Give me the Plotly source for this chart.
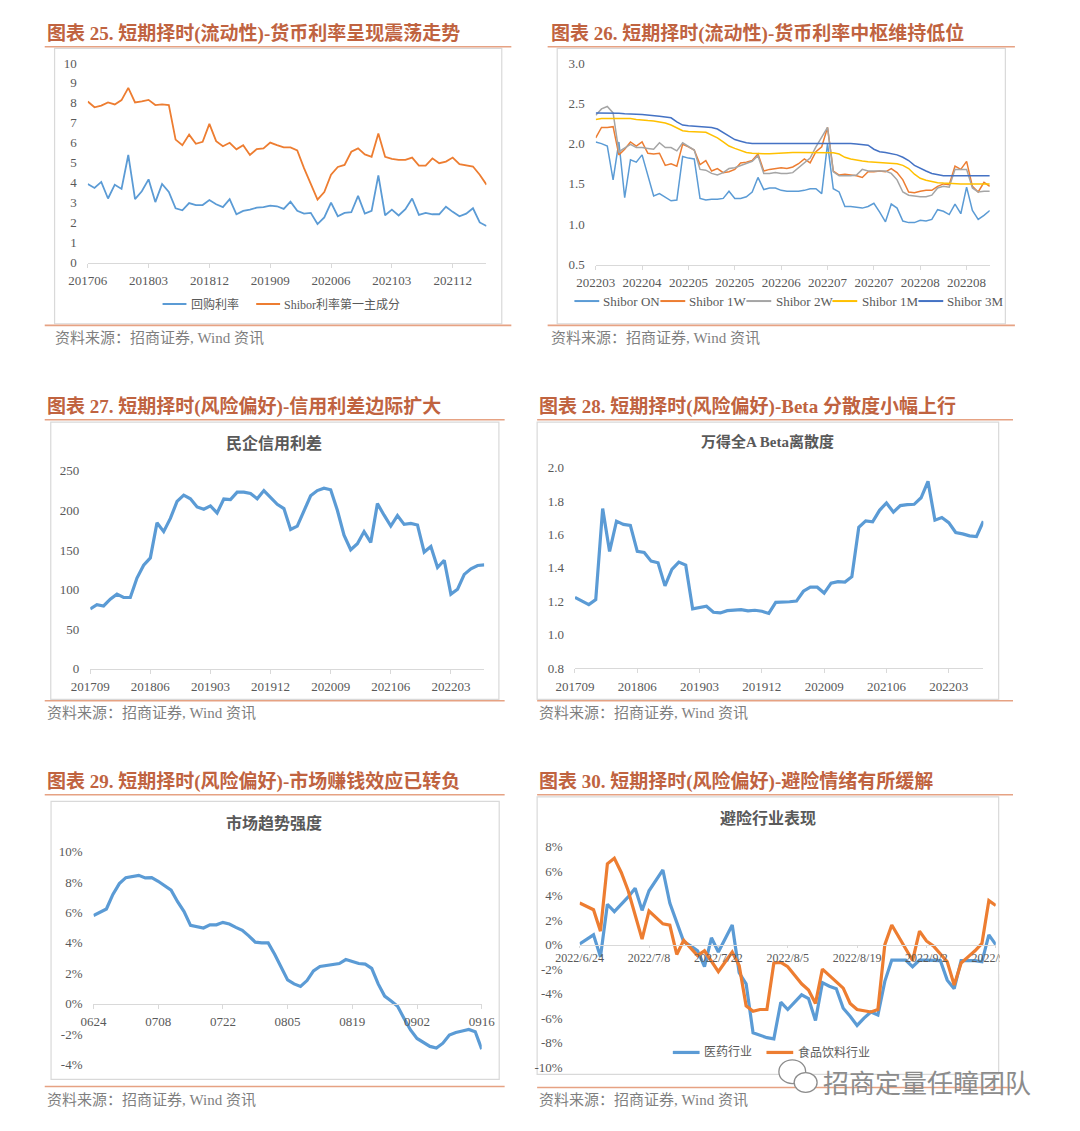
import plotly.graph_objects as go
import pandas as pd

W, H = 1080, 1131


def X(px):
    return px / W


def Y(py):
    return 1 - py / H


SERIF = "Liberation Serif, Noto Sans CJK SC, serif"
CJK = "Noto Sans CJK SC, Liberation Serif, sans-serif"
TICK_FONT = dict(family=SERIF, size=13, color="#595959")

# ------------------------------------------------------------------ data
# Chart 25 : monthly 201706 - 202205
months_a = [p.strftime("%Y%m") for p in pd.period_range("2017-06", periods=60, freq="M")]
ticks_25 = ["201706", "201803", "201812", "201909", "202006", "202103", "202112"]
repo_rate = [3.94, 3.74, 4.04, 3.21, 3.90, 3.69, 5.39, 3.18, 3.57, 4.17,
             3.03, 3.94, 3.54, 2.72, 2.62, 2.98, 2.88, 2.88, 3.13, 2.92,
             2.78, 3.18, 2.42, 2.59, 2.65, 2.75, 2.78, 2.85, 2.82, 2.69,
             3.05, 2.59, 2.45, 2.49, 1.93, 2.26, 3.00, 2.32, 2.49, 2.52,
             3.34, 2.45, 2.59, 4.37, 2.37, 2.65, 2.36, 2.67, 3.21, 2.39,
             2.49, 2.42, 2.42, 2.80, 2.54, 2.32, 2.45, 2.72, 2.01, 1.83]
shibor_pc1 = [8.07, 7.78, 7.86, 8.02, 7.92, 8.14, 8.75, 8.02, 8.07, 8.15,
              7.89, 7.92, 7.89, 6.16, 5.88, 6.41, 5.95, 6.05, 6.95, 6.08,
              5.83, 6.00, 5.67, 5.88, 5.39, 5.68, 5.72, 6.01, 5.88, 5.77,
              5.77, 5.62, 4.73, 3.90, 3.15, 3.53, 4.40, 4.79, 4.89, 5.55,
              5.72, 5.42, 5.30, 6.46, 5.30, 5.19, 5.14, 5.14, 5.26, 4.86,
              4.86, 5.22, 4.98, 5.06, 5.26, 4.93, 4.86, 4.81, 4.40, 3.90]

# Chart 26 : daily Shibor, 69 observations
shibor_obs = list(range(69))
ticks_26_pos = [0, 8, 16, 24, 32, 40, 48, 56, 64]
ticks_26 = ["202203", "202204", "202205", "202205", "202206",
            "202207", "202207", "202208", "202208"]
shibor_on = [2.02, 2.00, 1.97, 1.55, 2.02, 1.33, 1.80, 1.77, 1.86, 1.60,
             1.35, 1.38, 1.33, 1.29, 1.30, 1.84, 1.82, 1.81, 1.32, 1.30,
             1.31, 1.31, 1.32, 1.41, 1.32, 1.32, 1.34, 1.40, 1.58, 1.43,
             1.45, 1.45, 1.42, 1.41, 1.41, 1.41, 1.42, 1.44, 1.44, 1.38,
             2.00, 1.44, 1.40, 1.22, 1.22, 1.21, 1.20, 1.22, 1.26, 1.15,
             1.03, 1.25, 1.20, 1.04, 1.02, 1.02, 1.05, 1.04, 1.06, 1.18,
             1.16, 1.12, 1.25, 1.13, 1.46, 1.17, 1.06, 1.11, 1.17]
shibor_1w = [2.07, 2.20, 2.20, 2.21, 1.86, 1.93, 2.02, 1.97, 2.02, 1.88,
             1.87, 1.88, 1.73, 1.75, 1.72, 1.99, 1.96, 1.92, 1.74, 1.79,
             1.66, 1.69, 1.64, 1.65, 1.68, 1.76, 1.77, 1.79, 1.87, 1.66,
             1.68, 1.69, 1.70, 1.69, 1.71, 1.75, 1.81, 1.76, 1.90, 1.96,
             2.20, 1.66, 1.61, 1.62, 1.61, 1.60, 1.58, 1.65, 1.65, 1.66,
             1.65, 1.69, 1.64, 1.55, 1.40, 1.39, 1.41, 1.42, 1.42, 1.47,
             1.50, 1.49, 1.72, 1.68, 1.78, 1.47, 1.40, 1.52, 1.47]
shibor_2w = [2.35, 2.43, 2.46, 2.38, 1.90, 1.95, 1.99, 1.95, 1.95, 1.94,
             1.93, 2.01, 1.95, 1.95, 1.91, 2.01, 1.97, 1.92, 1.68, 1.67,
             1.63, 1.61, 1.64, 1.69, 1.70, 1.73, 1.76, 1.78, 1.85, 1.63,
             1.63, 1.64, 1.63, 1.63, 1.64, 1.70, 1.77, 1.82, 1.96, 2.08,
             2.20, 1.65, 1.60, 1.60, 1.60, 1.61, 1.68, 1.66, 1.66, 1.66,
             1.66, 1.63, 1.55, 1.40, 1.36, 1.35, 1.34, 1.34, 1.36, 1.45,
             1.47, 1.46, 1.68, 1.68, 1.68, 1.45, 1.40, 1.41, 1.41]
shibor_1m = [2.30, 2.31, 2.31, 2.31, 2.31, 2.31, 2.31, 2.30, 2.29, 2.285,
             2.28, 2.27, 2.255, 2.23, 2.19, 2.16, 2.15, 2.15, 2.145, 2.14,
             2.11, 2.07, 2.02, 1.97, 1.94, 1.91, 1.89, 1.88, 1.875, 1.875,
             1.875, 1.88, 1.885, 1.89, 1.89, 1.89, 1.89, 1.89, 1.89, 1.89,
             1.89, 1.885, 1.87, 1.83, 1.81, 1.795, 1.785, 1.775, 1.77, 1.765,
             1.76, 1.755, 1.75, 1.73, 1.69, 1.62, 1.57, 1.545, 1.53, 1.515,
             1.51, 1.505, 1.50, 1.50, 1.50, 1.50, 1.50, 1.50, 1.50]
shibor_3m = [2.38, 2.38, 2.38, 2.375, 2.375, 2.37, 2.37, 2.365, 2.36, 2.355,
             2.35, 2.34, 2.33, 2.32, 2.27, 2.23, 2.22, 2.215, 2.21, 2.205,
             2.20, 2.18, 2.14, 2.09, 2.05, 2.03, 2.01, 2.00, 2.00, 2.00,
             2.00, 2.005, 2.005, 2.005, 2.005, 2.00, 2.00, 2.00, 2.00, 2.00,
             2.00, 2.00, 2.00, 2.00, 2.00, 1.995, 1.99, 1.98, 1.93, 1.90,
             1.89, 1.875, 1.86, 1.83, 1.79, 1.73, 1.69, 1.66, 1.63, 1.615,
             1.60, 1.60, 1.60, 1.60, 1.60, 1.60, 1.60, 1.60, 1.60]

# Charts 27 / 28 : monthly 201709 - 202208
months_b = [p.strftime("%Y%m") for p in pd.period_range("2017-09", periods=60, freq="M")]
ticks_27 = ["201709", "201806", "201903", "201912", "202009", "202106", "202203"]
credit_spread = [75.6, 81, 79.3, 88, 94.3, 90, 90, 114.6, 130.8, 140,
                 184.4, 173.2, 189.8, 211.4, 219.3, 214.7, 204.3, 201.4, 205.6, 196.8,
                 214.3, 213.5, 223, 223, 221.3, 214.7, 225, 216, 207.6, 202.2,
                 176, 180.2, 200.2, 218.4, 225, 228, 226, 200.2, 168.6, 150.3,
                 157.8, 173.2, 159.5, 208.5, 193.9, 180.2, 193.5, 182.3, 183.6, 181.5,
                 147.4, 154.5, 127.9, 137, 94.3, 100.5, 119.2, 126.2, 130.4, 131.2]
beta_dispersion = [1.223, 1.20, 1.18, 1.21, 1.754, 1.498, 1.679, 1.66, 1.654, 1.498,
                   1.492, 1.44, 1.43, 1.292, 1.39, 1.434, 1.416, 1.154, 1.162, 1.17,
                   1.134, 1.13, 1.144, 1.146, 1.15, 1.142, 1.146, 1.14, 1.127, 1.193,
                   1.193, 1.197, 1.201, 1.26, 1.284, 1.284, 1.249, 1.308, 1.317, 1.315,
                   1.347, 1.642, 1.681, 1.675, 1.744, 1.788, 1.733, 1.772, 1.778, 1.78,
                   1.819, 1.917, 1.685, 1.701, 1.67, 1.611, 1.603, 1.591, 1.587, 1.679]

# Charts 29 / 30 : trading days 2022-06-24 .. 2022-09-16
trade_days = pd.bdate_range("2022-06-24", "2022-09-16")
days_29 = [d.strftime("%m%d") for d in trade_days]
days_30 = [f"{d.year}/{d.month}/{d.day}" for d in trade_days]
trend_strength = [5.8, 6.0, 6.23, 7.19, 7.9, 8.29, 8.38, 8.44, 8.27, 8.29,
                  8.05, 7.79, 7.47, 6.71, 6.06, 5.15, 5.04, 4.98, 5.19, 5.19,
                  5.35, 5.24, 5.02, 4.83, 4.46, 4.05, 4.0, 4.0, 3.25, 2.38,
                  1.56, 1.3, 1.13, 1.52, 2.16, 2.45, 2.51, 2.55, 2.64, 2.9,
                  2.75, 2.64, 2.6, 2.32, 1.3, 0.5, 0.17, -0.17, -0.97, -1.73,
                  -2.29, -2.55, -2.81, -2.92, -2.6, -2.06, -1.9, -1.8, -1.69, -1.84,
                  -2.99]
pharma = [0.05, 0.4, 0.8, -1.0, 3.3, 2.7, 3.3, 3.9, 4.6, 2.8,
          4.4, 5.2, 6.1, 3.4, 1.8, 0.25, -0.1, -0.5, -1.8, 0.56,
          -0.6, 0.5, 1.6, -2.3, -3.2, -7.2, -7.4, -7.6, -7.7, -4.7,
          -5.3, -4.7, -4.1, -4.4, -6.2, -3.1, -3.4, -3.6, -5.2, -5.85,
          -6.6, -6.0, -5.5, -5.75, -3.0, -1.26, -1.26, -1.26, -1.8, -1.26,
          -1.26, -1.3, -1.3, -2.9, -3.6, -1.3, -1.3, -1.3, -1.4, 0.8,
          0.0]
food_beverage = [3.4, 3.15, 2.85, 1.1, 6.6, 7.05, 5.9, 4.4, 2.4, 0.45,
                 2.75, 2.2, 1.7, 1.6, -0.8, 0.35, -0.3, -0.9, -0.5, -1.3,
                 -2.2, -1.4, -0.6, -1.7, -5.0, -5.45, -5.3, -5.3, -1.5, -1.45,
                 -1.8, -2.5, -3.2, -3.7, -4.8, -2.0, -2.5, -3.0, -3.55, -4.8,
                 -5.3, -5.4, -5.5, -5.3, 0.0, 1.6, 0.6, -0.4, -1.3, 1.1,
                 0.3, -0.1, -0.8, -1.4, -3.3, -1.5, -1.0, -0.5, 0.1, 3.6,
                 3.2]

# ------------------------------------------------------------------ figure
BLUE, ORANGE, GRAY, GOLD, NAVY = "#5B9BD5", "#ED7D31", "#A5A5A5", "#FFC000", "#4472C4"

fig = go.Figure()


def line(x, y, ax, color, width):
    fig.add_trace(go.Scatter(x=x, y=y, mode="lines", xaxis="x" + ax, yaxis="y" + ax,
                             line=dict(color=color, width=width), hoverinfo="skip",
                             showlegend=False))


line(months_a, repo_rate, "", BLUE, 1.8)
line(months_a, shibor_pc1, "", ORANGE, 1.8)
line(shibor_obs, shibor_on, "2", BLUE, 1.5)
line(shibor_obs, shibor_1w, "2", ORANGE, 1.5)
line(shibor_obs, shibor_2w, "2", GRAY, 1.5)
line(shibor_obs, shibor_1m, "2", GOLD, 1.5)
line(shibor_obs, shibor_3m, "2", NAVY, 1.5)
line(months_b, credit_spread, "3", BLUE, 3.2)
line(months_b, beta_dispersion, "4", BLUE, 3.2)
line(days_29, trend_strength, "5", BLUE, 3.2)
line(days_30, pharma, "6", BLUE, 3.2)
line(days_30, food_beverage, "6", ORANGE, 3.2)


def xaxis(x0, x1, rng, **kw):
    d = dict(domain=[X(x0), X(x1)], range=rng, showline=True, linecolor="#D9D9D9",
             linewidth=1, ticks="outside", ticklen=4, tickcolor="#D9D9D9", tickwidth=1,
             showgrid=False, zeroline=False, tickfont=TICK_FONT, ticklabelstandoff=2,
             fixedrange=True, tickmode="array")
    d.update(kw)
    return d


def yaxis(y0, y1, rng, vals, texts, anchor, standoff=10):
    return dict(domain=[Y(y0), Y(y1)], range=rng, showline=False, showgrid=False,
                zeroline=False, ticks="", tickmode="array", tickvals=vals, ticktext=texts,
                tickfont=TICK_FONT, ticklabelstandoff=standoff, fixedrange=True,
                anchor=anchor)


def num_ticks(start, stop, step, fmt):
    vals, v = [], start
    while v <= stop + 1e-9:
        vals.append(round(v, 6))
        v += step
    return vals, [fmt(t) for t in vals]


yv1, yt1 = num_ticks(0, 10, 1, lambda t: f"{t:.0f}")
yv2, yt2 = num_ticks(0.5, 3.0, 0.5, lambda t: f"{t:.1f}")
yv3, yt3 = num_ticks(0, 250, 50, lambda t: f"{t:.0f}")
yv4, yt4 = num_ticks(0.8, 2.0, 0.2, lambda t: f"{t:.1f}")
yv5, yt5 = num_ticks(-4, 10, 2, lambda t: f"{t:.0f}%")
yv6, yt6 = num_ticks(-10, 8, 2, lambda t: f"{t:.0f}%")

fig.update_layout(
    width=W, height=H, margin=dict(l=0, r=0, t=0, b=0),
    paper_bgcolor="white", plot_bgcolor="white", showlegend=False,
    font=dict(family=SERIF, color="#595959"),
    xaxis=xaxis(66.7, 484, [0, len(months_a) - 1], type="category",
                tickvals=ticks_25, ticktext=ticks_25, anchor="y"),
    yaxis=yaxis(259, 56.7, [0, 10], yv1, yt1, "x"),
    xaxis2=xaxis(598.3, 1010.7, [0, len(shibor_obs) - 1], tickvals=ticks_26_pos,
                 ticktext=ticks_26, anchor="y2"),
    yaxis2=yaxis(261, 56.7, [0.5, 3.0], yv2, yt2, "x2"),
    xaxis3=xaxis(69.3, 481.7, [0, len(months_b) - 1], type="category",
                 tickvals=ticks_27, ticktext=ticks_27, anchor="y3"),
    yaxis3=yaxis(670.7, 470, [0, 250], yv3, yt3, "x3"),
    xaxis4=xaxis(576.6, 1004, [0, len(months_b) - 1], type="category",
                 tickvals=ticks_27, ticktext=ticks_27, anchor="y4"),
    yaxis4=yaxis(670, 466.7, [0.8, 2.0], yv4, yt4, "x4"),
    xaxis5=xaxis(72.7, 479, [0, len(days_29) - 1], type="category",
                 tickvals=days_29[::10], ticktext=days_29[::10], anchor="free",
                 position=Y(1010.1)),
    yaxis5=yaxis(1071.7, 856, [-4, 10], yv5, yt5, "x5"),
    xaxis6=xaxis(581.5, 1017, [0, len(days_30) - 1], type="category",
                 tickvals=days_30[::10], ticktext=days_30[::10], anchor="free",
                 position=Y(950.3), ticklen=2, ticklabelstandoff=0,
                 tickfont=dict(family=SERIF, size=12, color="#595959")),
    yaxis6=yaxis(1074.3, 851, [-10, 8], yv6, yt6, "x6", standoff=16),
)

shapes = []
annotations = []


def hline(x0, x1, y, color, width, layer="above"):
    shapes.append(dict(type="line", xref="paper", yref="paper", x0=X(x0), x1=X(x1),
                       y0=Y(y), y1=Y(y), line=dict(color=color, width=width), layer=layer))


def box(x0, y0, x1, y1):
    shapes.append(dict(type="rect", xref="paper", yref="paper", x0=X(x0), x1=X(x1),
                       y0=Y(y1), y1=Y(y0), line=dict(color="#D9D9D9", width=1.2),
                       fillcolor="rgba(0,0,0,0)", layer="below"))


def text(x, y, s, size, color, family=SERIF, xanchor="left"):
    annotations.append(dict(xref="paper", yref="paper", x=X(x), y=Y(y), text=s,
                            showarrow=False, xanchor=xanchor, yanchor="middle",
                            font=dict(family=family, size=size, color=color),
                            borderpad=0))


TITLE_C = "#C06340"
RULE_C = "#E6A283"
SRC_C = "#7F7F7F"
SRC = "资料来源：招商证券, Wind 资讯"

# panel frames, rules, titles, sources
panels = [
    # title x, title y, rule x0, rule x1, rule y, bottom y, box, source x, source y, title
    (22.7, 26.7, 21.7, 510, 40.3, 322.7, (32, 42, 500, 321), 31.7, 335.5,
     "图表 25. 短期择时(流动性)-货币利率呈现震荡走势"),
    (550, 26.7, 548, 1037, 40.3, 322.7, (558, 42, 1027, 321), 550, 335.5,
     "图表 26. 短期择时(流动性)-货币利率中枢维持低位"),
    (22.7, 405, 21.7, 503, 418.3, 703, (28, 420.7, 497, 701.7), 22.7, 715,
     "图表 27. 短期择时(风险偏好)-信用利差边际扩大"),
    (537.7, 405, 537, 1035, 418.3, 703, (537, 420.7, 1020, 701.7), 537.7, 715,
     "图表 28. 短期择时(风险偏好)-Beta 分散度小幅上行"),
    (22.7, 785, 21.7, 503, 798.3, 1094, (28.3, 805, 497.3, 1086.7), 22.7, 1107.3,
     "图表 29. 短期择时(风险偏好)-市场赚钱效应已转负"),
    (537.7, 785, 537, 1035, 798.3, 1095, (537, 800.5, 1020, 1081.7), 537.7, 1107.3,
     "图表 30. 短期择时(风险偏好)-避险情绪有所缓解"),
]
for tx, ty, rx0, rx1, ry, by, bx, sx, sy, title in panels:
    box(*bx)
    hline(rx0, rx1, ry, RULE_C, 1.6)
    hline(rx0, rx1, by, RULE_C, 1.6)
    text(tx, ty, "<b>" + title + "</b>", 19, TITLE_C)
    text(sx, sy, SRC, 15, SRC_C)

# inner chart titles
CT_C = "#595959"
text(261.7, 441.7, "<b>民企信用利差</b>", 16, CT_C, xanchor="center")
text(778, 440, "<b>万得全A Beta离散度</b>", 15, CT_C, xanchor="center")
text(261.7, 827.3, "<b>市场趋势强度</b>", 16, CT_C, xanchor="center")
text(779, 821.7, "<b>避险行业表现</b>", 16, CT_C, xanchor="center")

# legends (drawn as keys + labels)
LEG_C = "#595959"
for lx0, lx1, tx, col, lab in [(145, 170, 174, BLUE, "回购利率"),
                               (243, 268, 271, ORANGE, "Shibor利率第一主成分")]:
    hline(lx0, lx1, 301, col, 2)
    text(tx, 301, lab, 12, LEG_C)
for lx0, lx1, tx, col, lab in [(576, 602, 605, BLUE, "Shibor ON"),
                               (666, 692, 695, ORANGE, "Shibor 1W"),
                               (756, 782, 786, GRAY, "Shibor 2W"),
                               (846, 872, 876, GOLD, "Shibor 1M"),
                               (936, 962, 965, NAVY, "Shibor 3M")]:
    hline(lx0, lx1, 298, col, 2)
    text(tx, 298, lab, 13, LEG_C)
for lx0, lx1, tx, col, lab in [(679, 707, 710.5, BLUE, "医药行业"),
                               (777, 805, 808.6, ORANGE, "食品饮料行业")]:
    hline(lx0, lx1, 1059.5, col, 3.2)
    text(tx, 1059.5, lab, 12, LEG_C)

# last date label of chart 30 is clipped by its frame in the original
shapes.append(dict(type="rect", xref="paper", yref="paper", x0=X(1021), x1=X(1062),
                   y0=Y(980), y1=Y(950), line=dict(width=0), fillcolor="white",
                   layer="above"))

# watermark
WM_C = "#8C8C8C"
shapes.append(dict(type="circle", xref="paper", yref="paper", x0=X(790), x1=X(818),
                   y0=Y(1091), y1=Y(1067), line=dict(color=WM_C, width=1.3),
                   fillcolor="white", layer="above"))
shapes.append(dict(type="circle", xref="paper", yref="paper", x0=X(806), x1=X(830),
                   y0=Y(1100), y1=Y(1080), line=dict(color=WM_C, width=1.3),
                   fillcolor="white", layer="above"))
text(835, 1089, "招商定量任瞳团队", 26, WM_C, family=CJK)

fig.update_layout(shapes=shapes, annotations=annotations)
fig.write_html("out.html",
               config={"displayModeBar": False, "staticPlot": True},
               post_script="document.body.style.margin='0';")
